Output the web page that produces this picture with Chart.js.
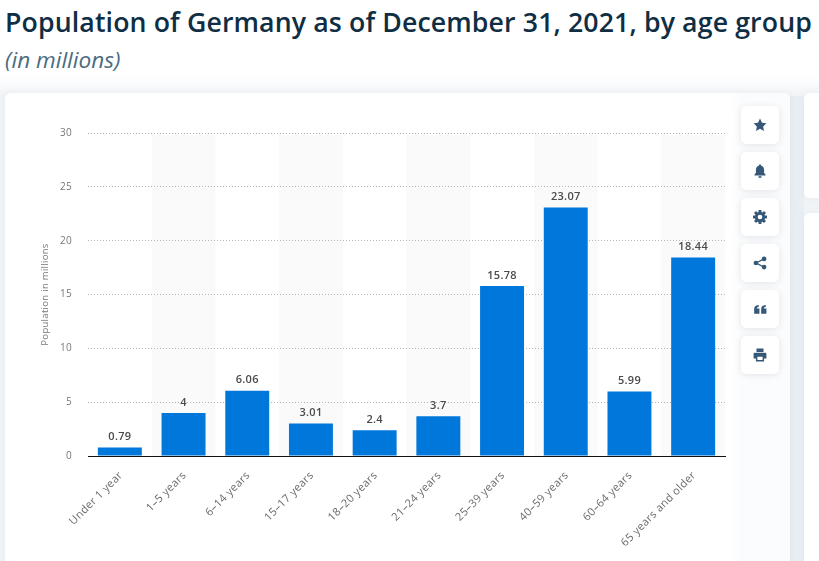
<!DOCTYPE html>
<html><head><meta charset="utf-8">
<style>
html,body{margin:0;padding:0;width:819px;height:561px;overflow:hidden;font-family:"Open Sans",sans-serif}
body{background:linear-gradient(#fff 76px,#f1f4f7 96px)}
h1{position:absolute;left:5px;top:3px;margin:0;font-size:26.7px;line-height:38px;font-weight:600;color:#0f2e43;white-space:nowrap;letter-spacing:.12px}
h2{position:absolute;left:5px;top:45px;margin:0;font-size:22.6px;line-height:30px;font-weight:400;font-style:italic;color:#4b6b80;white-space:nowrap}
.card{position:absolute;background:#fff;border-radius:6px;box-shadow:0 0 8px rgba(60,80,100,.05)}
#gutter{position:absolute;left:790px;top:96px;width:14px;height:465px;background:#e9eef3}
#main{left:5px;top:93px;width:785px;height:480px}
#side{position:absolute;left:728px;top:93px;width:62px;height:468px;border-radius:0 6px 0 0;background:linear-gradient(90deg,#fff,#fbfcfd 14px)}
#s1{left:804px;top:93px;width:40px;height:105px}
#s2{left:804px;top:213px;width:40px;height:360px}
#wrap{position:absolute;left:5px;top:93px;width:735px;height:468px}
.btn{position:absolute;left:741px;width:38px;height:38px;background:#fff;border-radius:5px;box-shadow:0 1px 7px rgba(50,70,90,.13);display:flex;align-items:center;justify-content:center}
.btn svg{width:14px;height:14px;fill:#365878}
</style></head><body>
<h1>Population of Germany as of December 31, 2021, by age group</h1>
<h2>(in millions)</h2>
<div id="gutter"></div>
<div class="card" id="main"></div><div id="side"></div><div class="card" id="s1"></div><div class="card" id="s2"></div>
<div id="wrap"><canvas id="c"></canvas></div>
<div class="btn" style="top:106px"><svg viewBox="0 0 24 24"><path d="M12 1l3.4 7.2 7.6 1-5.6 5.4 1.4 7.8L12 18.6l-6.8 3.8 1.4-7.8L1 9.2l7.6-1z"/></svg></div>
<div class="btn" style="top:152px"><svg viewBox="0 0 24 24"><path d="M12 1c1.200 0 2 .8 2 1.800C17.500 3.700 19 6.500 19 10v5l2.500 3.500v1h-19v-1L5 15v-5c0-3.500 1.500-6.300 5-7.200C10 1.800 10.800 1 12 1zM9 21h6a3 3 0 0 1-6 0z"/></svg></div>
<div class="btn" style="top:198px"><svg viewBox="0 0 24 24"><circle cx="12" cy="12" r="6.500" fill="none" stroke="#365878" stroke-width="5"/><g><rect x="9.500" y="0" width="5" height="4"/><rect x="9.500" y="20" width="5" height="4"/><rect x="0" y="9.500" width="4" height="5"/><rect x="20" y="9.500" width="4" height="5"/></g><g transform="rotate(45 12 12)"><rect x="9.500" y="0" width="5" height="4"/><rect x="9.500" y="20" width="5" height="4"/><rect x="0" y="9.500" width="4" height="5"/><rect x="20" y="9.500" width="4" height="5"/></g></svg></div>
<div class="btn" style="top:244px"><svg viewBox="0 0 24 24"><circle cx="19" cy="5" r="4"/><circle cx="19" cy="19" r="4"/><circle cx="5" cy="12" r="4"/><path d="M5 11l13-7 1 2-13 7zM6 11l13 7-1 2L5 13z"/></svg></div>
<div class="btn" style="top:290px"><svg viewBox="0 0 24 24"><path d="M2 20v-8c0-4 2-6.500 8-7v3c-3 .5-3.500 1.500-3.500 3H11v9zM14 20v-8c0-4 2-6.500 8-7v3c-3 .5-3.500 1.500-3.500 3H23v9z"/></svg></div>
<div class="btn" style="top:336px"><svg viewBox="0 0 24 24"><path fill-rule="evenodd" d="M6 1h12v6H6zM3 8h18a2 2 0 0 1 2 2v8h-4v5H5v-5H1v-8a2 2 0 0 1 2-2zM7.500 15v5.500h9V15z"/></svg></div>
<script src="https://cdn.jsdelivr.net/npm/chart.js@4"></script>
<script>
const categories = ["Under 1 year","1–5 years","6–14 years","15–17 years","18–20 years","21–24 years","25–39 years","40–59 years","60–64 years","65 years and older"];
const population = [0.79,4,6.06,3.01,2.4,3.7,15.78,23.07,5.99,18.44];
const yTicks = [0,5,10,15,20,25,30];
const yTitle = "Population in millions";

const bands = {id:'bands',beforeDraw(ch){
  const {ctx,chartArea:a,scales:{x}}=ch;
  ctx.letterSpacing='0.3px';
  ctx.save();ctx.fillStyle='#fafafa';
  categories.forEach((_,i)=>{ if(i%2===1){
    const w=x.getPixelForValue(1)-x.getPixelForValue(0);
    ctx.fillRect(x.getPixelForValue(i)-w/2,a.top+2,w,a.bottom-a.top-2);
  }});
  ctx.restore();
}};
const labels = {id:'labels',afterDatasetsDraw(ch){
  const {ctx}=ch;
  ctx.save();
  ctx.font='600 11px "Open Sans"';ctx.fillStyle='#4a4a4a';ctx.textAlign='center';ctx.textBaseline='bottom';
  ch.getDatasetMeta(0).data.forEach((b,i)=>ctx.fillText(String(population[i]),b.x,b.y-5));
  ctx.restore();
}};
new Chart(document.getElementById('c'),{
  type:'bar',
  data:{labels:categories,datasets:[{data:population,backgroundColor:'#0077db',borderWidth:0,barPercentage:0.69,categoryPercentage:1}]},
  plugins:[bands,labels],
  options:{
    responsive:true,maintainAspectRatio:false,animation:false,
    layout:{padding:{top:40,right:15,left:0,bottom:0}},
    plugins:{legend:{display:false},tooltip:{enabled:false}},
    scales:{
      x:{afterFit(s){s.height=105;},
        grid:{display:false,drawTicks:false},
        border:{display:true,color:'#111',width:1},
        ticks:{color:'#6a6a6a',font:{size:11,family:'"Open Sans"'},maxRotation:45,minRotation:45,padding:13,labelOffset:1,autoSkip:false}},
      y:{min:0,max:30,afterFit(s){s.width=83;},
        afterBuildTicks(s){s.ticks=yTicks.map(v=>({value:v}));},
        grid:{color:'#b5b5b5',drawTicks:false,lineWidth:1},
        border:{display:false,dash:[1,2]},
        title:{display:true,text:yTitle,color:'#777',font:{size:9.5,family:'"Open Sans"'},padding:{top:35,bottom:0}},
        ticks:{color:'#777',font:{size:10,family:'"Open Sans"'},padding:16}}
    }
  }
});
</script></body></html>
